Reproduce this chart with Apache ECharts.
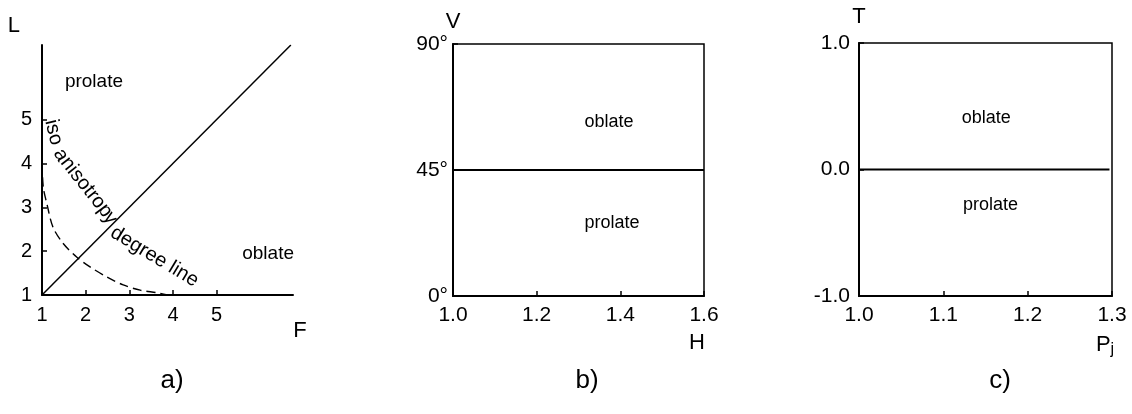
<!DOCTYPE html>
<html>
<head>
<meta charset="utf-8">
<script src="https://cdn.jsdelivr.net/npm/echarts@6/dist/echarts.min.js"></script>
<style>
  html, body { margin: 0; padding: 0; background: #fff; }
  #chart { width: 1132px; height: 414px; }
</style>
</head>
<body>
<div id="chart"></div>
<script>
// ---- panel a: L versus F ----
const fTicks = [1, 2, 3, 4, 5];
const lTicks = [1, 2, 3, 4, 5];
const isoF = [1.0, 1.03, 1.11, 1.25, 1.48, 1.80, 2.10, 2.49, 2.86, 3.25, 3.64, 3.87];
const isoL = [4.0, 3.45, 3.09, 2.55, 2.18, 1.86, 1.64, 1.41, 1.23, 1.11, 1.05, 1.0];
const diagF = [1, 6.7];            // L = F boundary, drawn between these F values
// ---- panel b: V versus H ----
const hTicks = [1.0, 1.2, 1.4, 1.6];
const vTicks = [0, 45, 90];
const vBoundary = 45;
// ---- panel c: T versus Pj ----
const pjTicks = [1.0, 1.1, 1.2, 1.3];
const tTicks = [-1, 0, 1];
const tBoundary = 0;
// ---- text ----
const shapeNames = ['prolate', 'oblate'];
const panelNames = ['a)', 'b)', 'c)'];
const isoLabelParts = ['iso anisotropy', 'degree line'];

const FONT = '"Liberation Sans", Arial, Helvetica, sans-serif';
const BLACK = '#000';

const chart = echarts.init(document.getElementById('chart'), null, { renderer: 'canvas' });

const axisLine = { show: true, onZero: false, lineStyle: { color: BLACK, width: 2 } };
const tickStyle = { show: true, inside: true, length: 5, lineStyle: { color: BLACK, width: 1.5 } };

function pairs(xs, ys) { return xs.map((x, i) => [x, ys[i]]); }

const option = {
  animation: false,
  backgroundColor: '#fff',
  textStyle: { fontFamily: FONT, color: BLACK },
  grid: [
    { left: 42, top: 45, width: 251, height: 250, show: false },
    { left: 453, top: 44, width: 251, height: 252, show: true, borderColor: BLACK, borderWidth: 1.5, backgroundColor: 'transparent' },
    { left: 859, top: 43, width: 253, height: 253, show: true, borderColor: BLACK, borderWidth: 1.5, backgroundColor: 'transparent' }
  ],
  xAxis: [
    {
      gridIndex: 0, type: 'value', min: fTicks[0], max: 6.75, interval: 1,
      name: 'F', nameLocation: 'end', nameGap: 7,
      nameTextStyle: { fontSize: 22, color: BLACK, align: 'center', verticalAlign: 'top', padding: [25, 0, 0, 0] },
      axisLine, splitLine: { show: false },
      axisTick: Object.assign({ customValues: fTicks.slice(1) }, tickStyle),
      axisLabel: { customValues: fTicks, fontSize: 20, color: BLACK, margin: 10 }
    },
    {
      gridIndex: 1, type: 'value', min: hTicks[0], max: hTicks[hTicks.length - 1], interval: 0.2,
      name: 'H', nameLocation: 'end', nameGap: -7,
      nameTextStyle: { fontSize: 22, color: BLACK, align: 'center', verticalAlign: 'top', padding: [36, 0, 0, 0] },
      axisLine, splitLine: { show: false },
      axisTick: Object.assign({ customValues: hTicks }, tickStyle),
      axisLabel: { customValues: hTicks, fontSize: 21, color: BLACK, margin: 9, formatter: v => v.toFixed(1) }
    },
    {
      gridIndex: 2, type: 'value', min: pjTicks[0], max: pjTicks[pjTicks.length - 1], interval: 0.1,
      name: '{p|P}{j|j}', nameLocation: 'end', nameGap: -7,
      nameTextStyle: {
        color: BLACK, align: 'center', verticalAlign: 'top', padding: [36, 0, 0, 0],
        rich: { p: { fontSize: 22, fontFamily: FONT, color: BLACK }, j: { fontSize: 16, fontFamily: FONT, color: BLACK, padding: [10, 0, 0, 0] } }
      },
      axisLine, splitLine: { show: false },
      axisTick: Object.assign({ customValues: pjTicks }, tickStyle),
      axisLabel: { customValues: pjTicks, fontSize: 21, color: BLACK, margin: 9, formatter: v => v.toFixed(1) }
    }
  ],
  yAxis: [
    {
      gridIndex: 0, type: 'value', min: lTicks[0], max: 6.7, interval: 1,
      name: 'L', nameLocation: 'end', nameGap: 19,
      nameTextStyle: { fontSize: 22, color: BLACK, align: 'right', verticalAlign: 'middle', padding: [0, 22, 0, 0] },
      axisLine, splitLine: { show: false },
      axisTick: Object.assign({ customValues: lTicks.slice(1) }, tickStyle),
      axisLabel: { customValues: lTicks, fontSize: 20, color: BLACK, margin: 10 }
    },
    {
      gridIndex: 1, type: 'value', min: vTicks[0], max: vTicks[vTicks.length - 1], interval: 45,
      name: 'V', nameLocation: 'end', nameGap: 22,
      nameTextStyle: { fontSize: 22, color: BLACK, align: 'center', verticalAlign: 'middle' },
      axisLine, splitLine: { show: false },
      axisTick: Object.assign({ customValues: vTicks }, tickStyle),
      axisLabel: { customValues: vTicks, fontSize: 21, color: BLACK, margin: 5, formatter: v => v + '°' }
    },
    {
      gridIndex: 2, type: 'value', min: tTicks[0], max: tTicks[tTicks.length - 1], interval: 1,
      name: 'T', nameLocation: 'end', nameGap: 26,
      nameTextStyle: { fontSize: 22, color: BLACK, align: 'center', verticalAlign: 'middle' },
      axisLine, splitLine: { show: false },
      axisTick: Object.assign({ customValues: tTicks }, tickStyle),
      axisLabel: { customValues: tTicks, fontSize: 21, color: BLACK, margin: 9, formatter: v => v.toFixed(1) }
    }
  ],
  series: [
    {
      name: 'L = F', type: 'line', xAxisIndex: 0, yAxisIndex: 0,
      data: diagF.map(f => [f, f]), symbol: 'none',
      lineStyle: { color: BLACK, width: 1.5 }
    },
    {
      name: 'iso anisotropy', type: 'line', xAxisIndex: 0, yAxisIndex: 0,
      data: pairs(isoF, isoL), symbol: 'none', smooth: 0.3,
      lineStyle: { color: BLACK, width: 1.4, type: [9, 5] }
    },
    {
      name: 'V boundary', type: 'line', xAxisIndex: 1, yAxisIndex: 1,
      data: [[hTicks[0], vBoundary], [hTicks[hTicks.length - 1], vBoundary]], symbol: 'none',
      lineStyle: { color: BLACK, width: 2 }
    },
    {
      name: 'T boundary', type: 'line', xAxisIndex: 2, yAxisIndex: 2,
      data: [[pjTicks[0], tBoundary], [1.297, tBoundary]], symbol: 'none',
      lineStyle: { color: BLACK, width: 2 }
    }
  ]
};

chart.setOption(option);

// ---- annotations placed through the grids' coordinate systems ----
const measureCtx = document.createElement('canvas').getContext('2d');

function textEl(x, y, text, size, rotation) {
  return {
    type: 'text', x, y, rotation: rotation || 0, silent: true,
    style: {
      text, font: size + 'px ' + FONT, fill: BLACK,
      align: 'center', verticalAlign: 'middle',
      textAlign: 'center', textVerticalAlign: 'middle'
    }
  };
}

// guide paths (F/L units) for the curved caption of the iso-anisotropy line
const isoGuides = [
  [[1.195, 4.992], [1.321, 4.488], [1.412, 4.215], [1.939, 3.554], [2.466, 2.892], [2.558, 2.756]],
  [[2.608, 2.457], [3.657, 1.821], [4.459, 1.342], [4.597, 1.251]]
];

function textAlongPath(guide, text, size) {
  const pts = guide.map(p => chart.convertToPixel({ gridIndex: 0 }, p));
  const segs = [];
  let total = 0;
  for (let i = 1; i < pts.length; i++) {
    const dx = pts[i][0] - pts[i - 1][0], dy = pts[i][1] - pts[i - 1][1];
    const len = Math.hypot(dx, dy);
    segs.push({ x0: pts[i - 1][0], y0: pts[i - 1][1], dx, dy, len, start: total });
    total += len;
  }
  const pointAt = s => {
    const c = Math.max(0, Math.min(total, s));
    const g = segs.find(q => c <= q.start + q.len) || segs[segs.length - 1];
    const t = (c - g.start) / g.len;
    return [g.x0 + g.dx * t, g.y0 + g.dy * t];
  };
  measureCtx.font = size + 'px ' + FONT;
  const els = [];
  let s = 0;
  for (const ch of text) {
    const w = measureCtx.measureText(ch).width;
    const sc = s + w / 2;
    if (ch !== ' ') {
      const p = pointAt(sc);
      const a = pointAt(sc - w / 2 - 2), b = pointAt(sc + w / 2 + 2);
      els.push(textEl(p[0], p[1], ch, size, -Math.atan2(b[1] - a[1], b[0] - a[0])));
    }
    s += w;
  }
  return els;
}

function labelAt(gridIndex, coord, text, size) {
  const p = chart.convertToPixel({ gridIndex }, coord);
  return textEl(p[0], p[1], text, size);
}

const graphics = [].concat(
  textAlongPath(isoGuides[0], isoLabelParts[0], 20),
  textAlongPath(isoGuides[1], isoLabelParts[1], 20),
  [
    labelAt(0, [2.19, 5.86], shapeNames[0], 19),
    labelAt(0, [6.18, 1.95], shapeNames[1], 19),
    labelAt(1, [1.373, 62.1], shapeNames[1], 18),
    labelAt(1, [1.380, 26.1], shapeNames[0], 18),
    labelAt(2, [1.151, 0.407], shapeNames[1], 18),
    labelAt(2, [1.156, -0.281], shapeNames[0], 18),
    textEl(172, 381, panelNames[0], 26),
    textEl(587, 381, panelNames[1], 26),
    textEl(1000, 381, panelNames[2], 26)
  ]
);

chart.setOption({ graphic: { elements: graphics } });
</script>
</body>
</html>
